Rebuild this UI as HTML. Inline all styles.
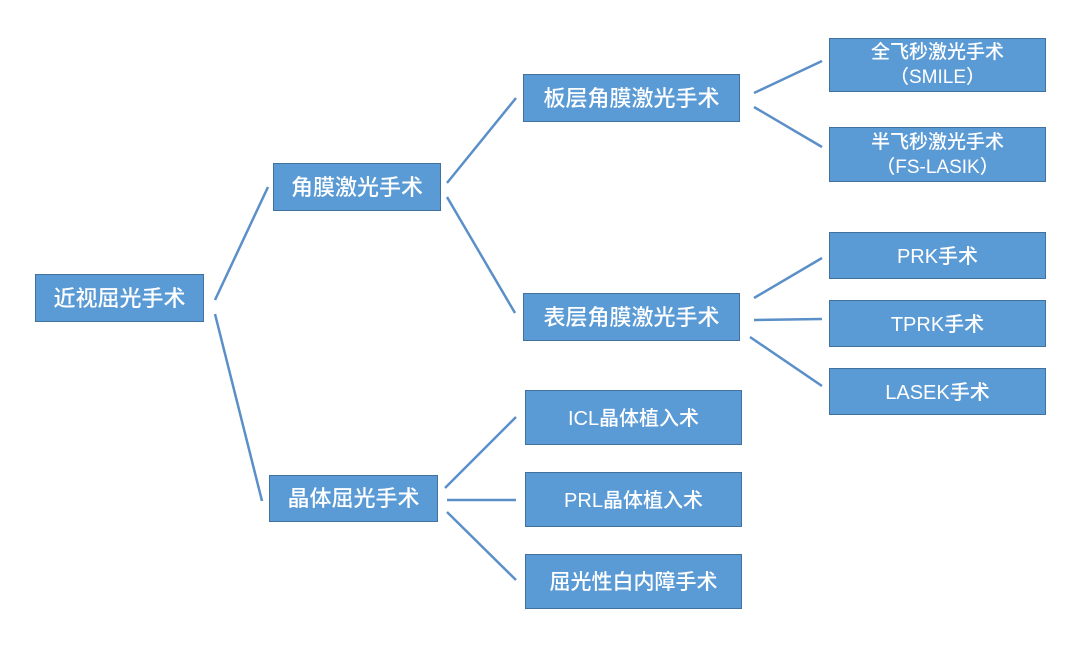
<!DOCTYPE html>
<html><head><meta charset="utf-8"><style>
html,body{margin:0;padding:0;background:#fff;}
body{width:1080px;height:645px;position:relative;overflow:hidden;font-family:"Liberation Sans","Noto Sans CJK SC",sans-serif;}
.b{position:absolute;box-sizing:border-box;background:#5b9bd5;border:1.5px solid #41719c;color:#fff;display:flex;align-items:center;justify-content:center;text-align:center;font-size:22px;line-height:1.2;font-weight:500;padding-top:2px;}
.s{font-size:20px;}
.t{font-size:19px;line-height:1.3;}
svg{position:absolute;left:0;top:0;}
</style></head><body>
<svg width="1080" height="645"><g stroke="#5a8fc8" stroke-width="2.5" fill="none">
<line x1="215" y1="300" x2="268" y2="187"/>
<line x1="215" y1="314" x2="262" y2="501"/>
<line x1="447" y1="183" x2="516" y2="98"/>
<line x1="447" y1="197" x2="515" y2="313"/>
<line x1="445" y1="488" x2="516" y2="417"/>
<line x1="447" y1="500" x2="516" y2="500"/>
<line x1="447" y1="512" x2="516" y2="580"/>
<line x1="754" y1="93" x2="822" y2="61"/>
<line x1="754" y1="107" x2="822" y2="147"/>
<line x1="754" y1="298" x2="822" y2="258"/>
<line x1="754" y1="320" x2="822" y2="319"/>
<line x1="750" y1="337" x2="822" y2="386"/>
</g></svg>
<div class="b" style="left:35px;top:274px;width:169px;height:48px;">近视屈光手术</div>
<div class="b" style="left:273px;top:163px;width:168px;height:48px;">角膜激光手术</div>
<div class="b" style="left:269px;top:475px;width:169px;height:47px;">晶体屈光手术</div>
<div class="b" style="left:523px;top:74px;width:217px;height:48px;">板层角膜激光手术</div>
<div class="b" style="left:523px;top:293px;width:217px;height:48px;">表层角膜激光手术</div>
<div class="b t" style="left:829px;top:38px;width:217px;height:54px;">全飞秒激光手术<br>（SMILE）</div>
<div class="b t" style="left:829px;top:127px;width:217px;height:55px;">半飞秒激光手术<br>（FS-LASIK）</div>
<div class="b s" style="left:829px;top:232px;width:217px;height:47px;">PRK手术</div>
<div class="b s" style="left:829px;top:300px;width:217px;height:47px;">TPRK手术</div>
<div class="b s" style="left:829px;top:368px;width:217px;height:47px;">LASEK手术</div>
<div class="b s" style="left:525px;top:390px;width:217px;height:55px;">ICL晶体植入术</div>
<div class="b s" style="left:525px;top:472px;width:217px;height:55px;">PRL晶体植入术</div>
<div class="b" style="left:525px;top:554px;width:217px;height:55px;font-size:21px;">屈光性白内障手术</div>
</body></html>
